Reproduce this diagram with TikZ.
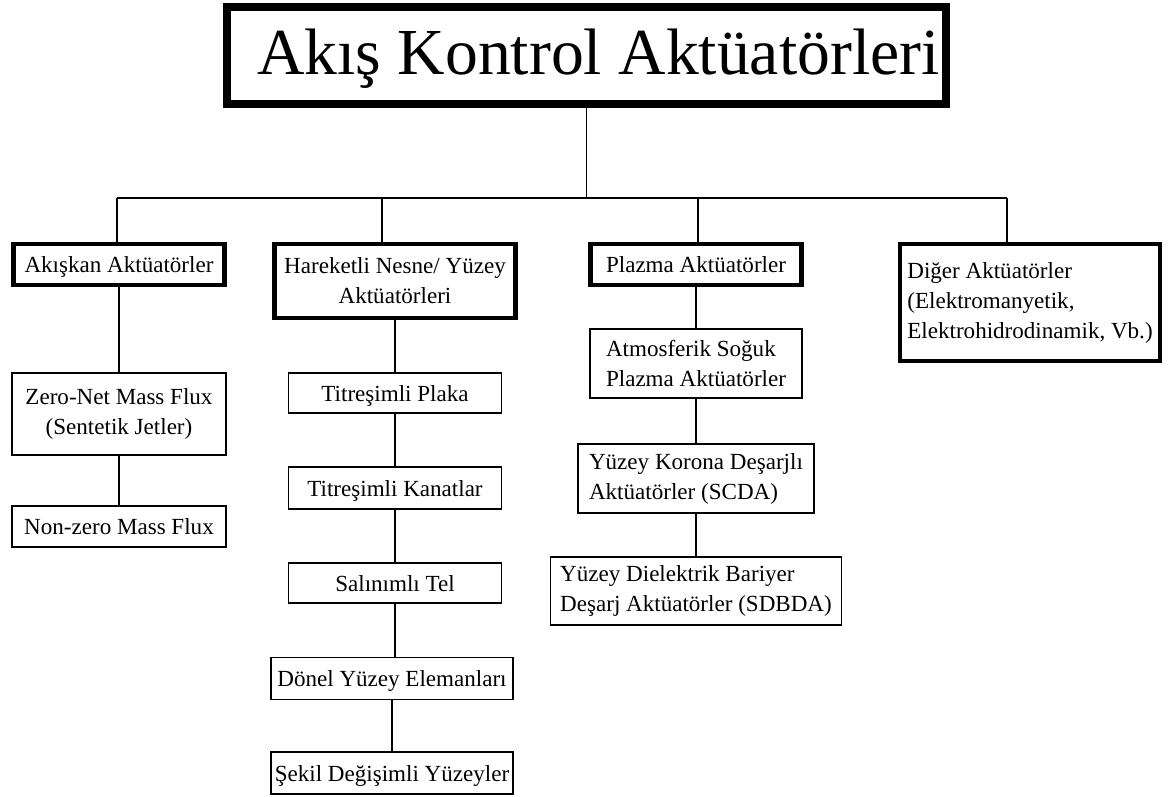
\documentclass[tikz,border=0pt]{standalone}
\usepackage{fontspec}
\setmainfont{Liberation Serif}
\newcommand\boxfont{\fontsize{16.4}{21.3}\selectfont}
\newcommand\titlefont{\fontsize{46.7}{56}\selectfont}
\tikzset{
  boxsize/.style 2 args={minimum width=#1*0.025cm, minimum height=#2*0.025cm},
  titlebox/.style={draw, line width=0.2cm, inner sep=0pt, font=\titlefont, text height=32.7pt, text depth=5pt},
  catbox/.style={draw, line width=0.11cm, inner sep=1pt, font=\boxfont},
  leafbox/.style={draw, line width=0.04cm, inner sep=1pt, font=\boxfont},
  oneline/.style={text height=14pt, text depth=2pt},
  link/.style={line width=0.04cm}
}

\begin{document}
\begin{tikzpicture}[x=0.025cm,y=-0.025cm]
\useasboundingbox (0,0) rectangle (1170,796);

\node (title) at (586.5,55.5) [titlebox,boxsize={719}{97}] {\hspace*{0.6cm}Akış Kontrol Aktüatörleri};

% bus line drops
\coordinate (c0) at (117,198);
\coordinate (c1) at (382,198);
\coordinate (c2) at (698,198);
\coordinate (c3) at (1007,198);

\node (akiskan) at (119,264.5) [catbox,oneline,boxsize={211}{41}] {Akışkan Aktüatörler};
\node (hareketli) at (395,281) [catbox,boxsize={241}{74},align=center] {Hareketli Nesne/ Yüzey\\Aktüatörleri};
\node (plazma) at (696,264.5) [catbox,oneline,boxsize={211}{41}] {Plazma Aktüatörler};
\node (diger) at (1030,302.5) [catbox,boxsize={260}{117},align=left] {Diğer Aktüatörler\\(Elektromanyetik,\\Elektrohidrodinamik, Vb.)};

\node (zeronet) at (119,414) [leafbox,boxsize={214}{82},align=center] {Zero-Net Mass Flux\\(Sentetik Jetler)};
\node (nonzero) at (119,526.5) [leafbox,oneline,boxsize={214}{41}] {Non-zero Mass Flux};

\node (plaka) at (395,393) [leafbox,oneline,boxsize={213}{40}] {Titreşimli Plaka};
\node (kanatlar) at (395,488) [leafbox,oneline,boxsize={213}{42}] {Titreşimli Kanatlar};
\node (salinim) at (395,583) [leafbox,oneline,boxsize={213}{40}] {Salınımlı Tel};
\node (donel) at (392,678.5) [leafbox,oneline,boxsize={242}{42}] {Dönel Yüzey Elemanları};
\node (sekil) at (392,773) [leafbox,oneline,boxsize={242}{42}] {Şekil Değişimli Yüzeyler};

\node (atmos) at (696,363.5) [leafbox,boxsize={212}{69},align=left] {Atmosferik Soğuk\\Plazma Aktüatörler};
\node (korona) at (696,478.5) [leafbox,boxsize={236}{69},align=left] {Yüzey Korona Deşarjlı\\Aktüatörler (SCDA)};
\node (sdbda) at (696,591) [leafbox,boxsize={291}{68},align=left] {Yüzey Dielektrik Bariyer\\Deşarj Aktüatörler (SDBDA)};

\draw[link] (title.south) -- (title.south |- c0);
\draw[link] (c0) -- (c3);
\foreach \c/\n in {c0/akiskan,c1/hareketli,c2/plazma,c3/diger} {
\draw[link] (\c) -- (\c |- \n.north);
}
\foreach \a/\b in {akiskan/zeronet,zeronet/nonzero,hareketli/plaka,plaka/kanatlar,kanatlar/salinim,salinim/donel,donel/sekil,plazma/atmos,atmos/korona,korona/sdbda} {
\draw[link] (\a.south) -- (\a.south |- \b.north);
}
\end{tikzpicture}
\end{document}
